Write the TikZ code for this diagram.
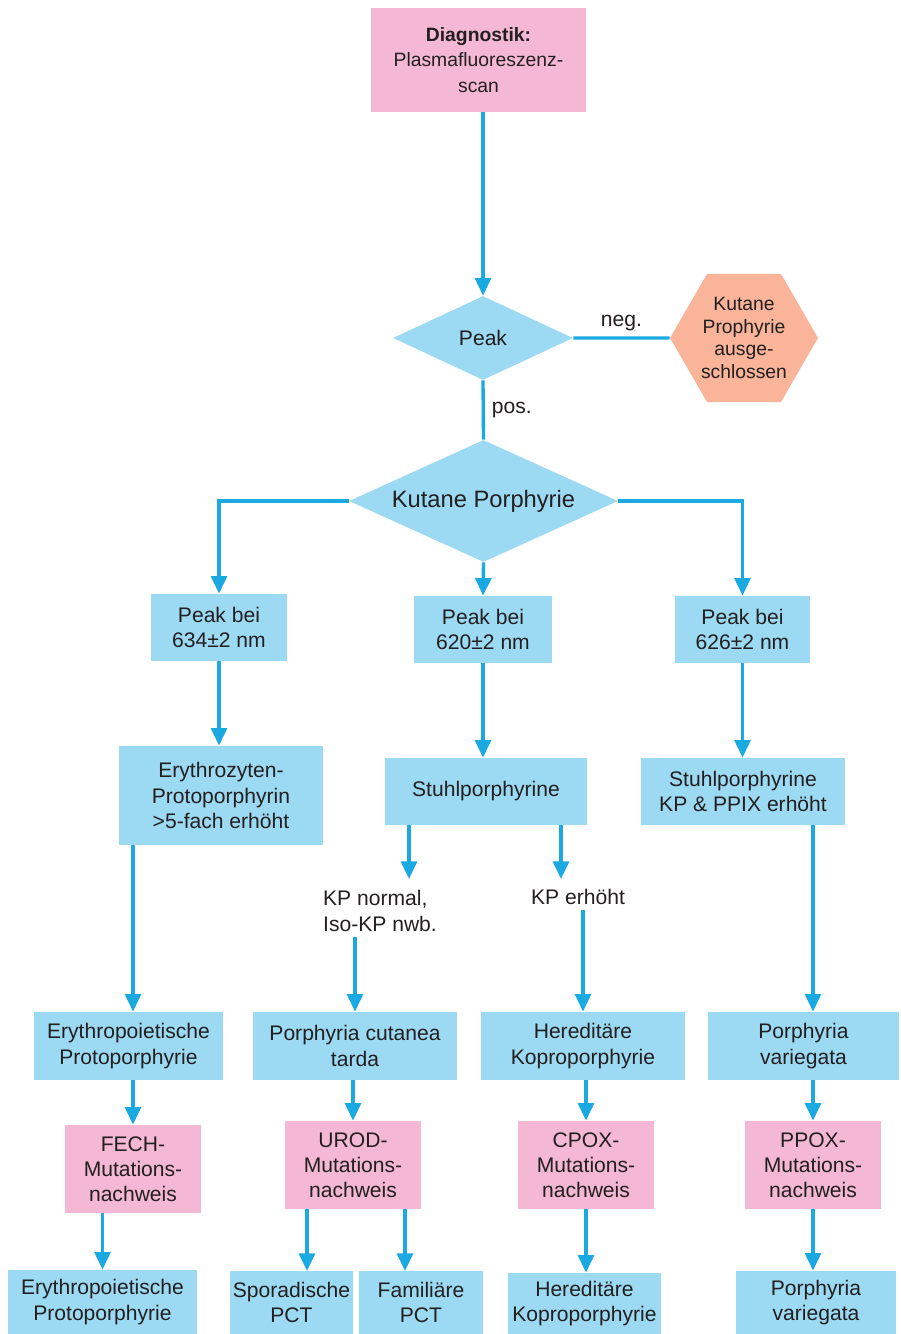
\documentclass[tikz,border=0pt]{standalone}
\usepackage{fontspec}
\setmainfont{Liberation Sans}
\usepackage{tikz}
\usetikzlibrary{arrows.meta,shapes.geometric}
\definecolor{rosa}{HTML}{F4B8D5}
\definecolor{hellblau}{HTML}{9BDAF2}
\definecolor{pfeil}{HTML}{1BA9E1}
\definecolor{lachs}{HTML}{F9B49A}
\definecolor{schrift}{HTML}{231F20}

\begin{document}
\begin{tikzpicture}[x=0.02cm,y=-0.02cm,
  every node/.style={text=schrift,font=\fontsize{12}{14.3}\selectfont,align=center,inner sep=0pt},
  blaubox/.style={fill=hellblau,minimum height=1.34cm},
  rosabox/.style={fill=rosa,minimum width=2.72cm,minimum height=1.76cm},
  raute/.style={diamond,fill=hellblau,aspect=2.2},
  arr/.style={draw=pfeil,line width=1.9pt,-{Triangle[length=10pt,width=9pt]}},
  lin/.style={draw=pfeil,line width=1.9pt}]
\useasboundingbox (0,0) rectangle (900,1334);
\def\mut{Mutations-\\nachweis}
% oben
\node[fill=rosa,minimum width=4.3cm,minimum height=2.08cm,font=\fontsize{11}{14.3}\selectfont] (diag) at (478.5,60) {{\bfseries Diagnostik:}\\Plasmafluoreszenz-\\scan};
\node[raute,minimum width=3.6cm,minimum height=1.68cm] (peak) at (483,338) {Peak};
\node[regular polygon,regular polygon sides=6,fill=lachs,minimum size=2.96cm,font=\fontsize{11}{13}\selectfont] (ausg) at (744,338) {Kutane\\Prophyrie\\ausge-\\schlossen};
\node[raute,minimum width=5.38cm,minimum height=2.44cm,font=\fontsize{13.5}{16}\selectfont] (kp) at (483.5,501) {Kutane Porphyrie};
\draw[arr] (diag.south -| peak.north) -- (peak.north);
\draw[lin] (peak.east) -- node[above=3pt] (neg) {neg.} (ausg.west);
\draw[lin] (peak.south) -- node[right=4pt] (pos) {pos.} (kp.north);
% Peaks
\node[blaubox,minimum width=2.72cm] (p634) at (219,627.5) {Peak bei\\634±2 nm};
\node[blaubox,minimum width=2.76cm] (p620) at (483,629.5) {Peak bei\\620±2 nm};
\node[blaubox,minimum width=2.7cm] (p626) at (742.5,629.5) {Peak bei\\626±2 nm};
\draw[arr] (kp.west) -| (p634.north);
\draw[arr] (kp.south) -- (p620.north);
\draw[arr] (kp.east) -| (p626.north);
% zweite Ebene
\node[blaubox,minimum width=4.08cm,minimum height=1.98cm] (ery) at (221,795.5) {Erythrozyten-\\Protoporphyrin\\>5-fach erhöht};
\node[blaubox,minimum width=4.04cm] (stuhl) at (486,791.5) {Stuhlporphyrine};
\node[blaubox,minimum width=4.08cm] (stuhlpp) at (743,791.5) {Stuhlporphyrine\\KP \& PPIX erhöht};
\draw[arr] (p634.south) -- (p634.south |- ery.north);
\draw[arr] (p620.south) -- (p620.south |- stuhl.north);
\draw[arr] (p626.south) -- (p626.south |- stuhlpp.north);
\node[align=left] (kpn) at (380,911) {KP normal,\\Iso-KP nwb.};
\node (kperh) at (578,897) {KP erhöht};
\coordinate (kpn-in) at (409,879);
\coordinate (kperh-in) at (561,879);
\draw[arr] (stuhl.south -| kpn-in) -- (kpn-in);
\draw[arr] (stuhl.south -| kperh-in) -- (kperh-in);
% Diagnosen
\node[blaubox,minimum width=3.78cm,minimum height=1.36cm] (epp) at (128.5,1046) {Erythropoietische\\Protoporphyrie};
\node[blaubox,minimum width=4.08cm,minimum height=1.36cm] (pct) at (355,1046) {Porphyria cutanea\\tarda};
\node[blaubox,minimum width=4.08cm,minimum height=1.36cm] (hk) at (583,1046) {Hereditäre\\Koproporphyrie};
\node[blaubox,minimum width=3.82cm,minimum height=1.36cm] (pv) at (803.5,1046) {Porphyria\\variegata};
\node[rosabox] (fech) at (133,1169) {FECH-\\\mut};
\node[rosabox] (urod) at (353,1165) {UROD-\\\mut};
\node[rosabox] (cpox) at (586,1165) {CPOX-\\\mut};
\node[rosabox] (ppox) at (813,1165) {PPOX-\\\mut};
\draw[arr] (ery.south -| fech.north) -- (epp.north -| fech.north);
\draw[arr] ([yshift=-3pt]kpn.south -| pct.north) -- (pct.north);
\draw[arr] ([yshift=-3pt]kperh.south -| hk.north) -- (hk.north);
\draw[arr] (stuhlpp.south -| ppox.north) -- (pv.north -| ppox.north);
\draw[arr] (epp.south -| fech.north) -- (fech.north);
\draw[arr] (pct.south -| urod.north) -- (urod.north);
\draw[arr] (hk.south -| cpox.north) -- (cpox.north);
\draw[arr] (pv.south -| ppox.north) -- (ppox.north);
% unten
\node[blaubox,minimum width=3.78cm,minimum height=1.28cm] (epp2) at (102.5,1302) {Erythropoietische\\Protoporphyrie};
\node[blaubox,minimum width=2.46cm,minimum height=1.26cm] (spo) at (291.5,1302.5) {Sporadische\\PCT};
\node[blaubox,minimum width=2.48cm,minimum height=1.26cm] (fam) at (421,1302.5) {Familiäre\\PCT};
\node[blaubox,minimum width=3.06cm,minimum height=1.22cm] (hk2) at (584.5,1303.5) {Hereditäre\\Koproporphyrie};
\node[blaubox,minimum width=3.2cm,minimum height=1.26cm] (pv2) at (816,1302.5) {Porphyria\\variegata};
\coordinate (spo-in) at (307,1271);
\coordinate (fam-in) at (405,1271);
\draw[arr] (fech.south -| epp2.north) -- (epp2.north);
\draw[arr] (urod.south -| spo-in) -- (spo-in);
\draw[arr] (urod.south -| fam-in) -- (fam-in);
\draw[arr] (cpox.south) -- (cpox.south |- hk2.north);
\draw[arr] (ppox.south) -- (ppox.south |- pv2.north);
\end{tikzpicture}
\end{document}
